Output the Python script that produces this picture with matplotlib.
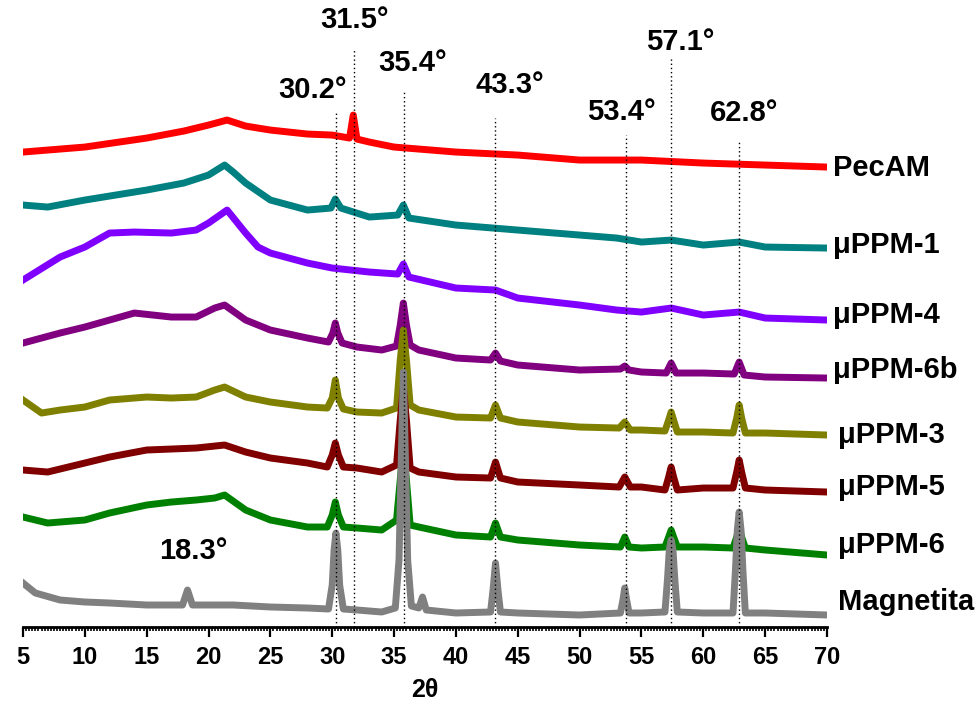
import matplotlib
matplotlib.use("Agg")
import matplotlib.pyplot as plt
from matplotlib.ticker import MultipleLocator

plt.rcParams["font.family"] = ["Liberation Sans", "DejaVu Sans"]
plt.rcParams["font.weight"] = "bold"

# XRD patterns, stacked intensity (a.u.) vs 2theta
pecam_x = [5, 10, 15, 18, 20, 21.5, 23, 25, 28, 30, 31.4, 31.7, 32.0, 33, 35, 40, 45, 50, 55, 60, 65, 70]
pecam_y = [475, 480, 489, 496, 502, 507, 501, 497, 493, 492, 489, 512, 488, 485, 480, 475, 472, 467, 467, 464, 462, 460]

ppm1_x = [5, 7, 10, 15, 18, 20, 21.3, 22, 23, 25, 28, 29.9, 30.25, 30.7, 33, 35.3, 35.75, 36.2,
          40, 45, 50, 53, 55, 57.4, 60, 62.9, 65, 70]
ppm1_y = [422, 420, 427, 437, 444, 452, 462, 455, 444, 427, 417, 419, 428, 419, 410, 412, 422, 409,
          402, 397, 392, 389, 385, 387, 382, 385, 380, 379]

ppm4_x = [5, 8, 10, 12, 14, 17, 19, 20, 21.5, 23, 24, 25, 28, 30, 33, 35.3, 35.75, 36.2,
          40, 43.2, 45, 50, 53, 55, 57.4, 60, 62.9, 65, 70]
ppm4_y = [347, 370, 380, 394, 395, 394, 397, 404, 417, 394, 380, 374, 364, 359, 355, 353, 363, 350,
          339, 337, 329, 322, 317, 315, 319, 312, 315, 309, 307]

ppm6b_x = [5, 8, 10, 12, 14, 17, 19, 20.5, 21.3, 23, 25, 28, 29.7, 30.05, 30.25, 30.45, 30.8, 32, 34,
           35.2, 35.5, 35.75, 36.0, 36.3, 37, 40, 42.8, 43.2, 43.6, 45, 50, 53.3, 53.65, 54, 55,
           57.0, 57.4, 57.8, 60, 62.5, 62.9, 63.3, 65, 70]
ppm6b_y = [284, 294, 300, 307, 314, 310, 310, 319, 322, 307, 297, 289, 285, 294, 304, 294, 284, 280, 277,
           281, 302, 324, 302, 282, 277, 269, 267, 274, 266, 262, 257, 258, 261, 257, 255,
           254, 264, 254, 254, 253, 265, 252, 250, 249]

ppm3_x = [5, 6.5, 8, 10, 12, 15, 17, 19, 20.5, 21.3, 23, 25, 28, 29.6, 30.0, 30.25, 30.5, 30.9, 32, 34,
          35.2, 35.5, 35.75, 36.0, 36.3, 37, 40, 42.8, 43.2, 43.6, 45, 50, 53.2, 53.65, 54.1, 55,
          56.9, 57.2, 57.4, 57.6, 57.9, 60, 62.4, 62.7, 62.9, 63.1, 63.4, 65, 70]
ppm3_y = [227, 214, 217, 220, 227, 230, 229, 230, 237, 240, 230, 225, 220, 219, 229, 247, 229, 218, 215, 214,
          219, 267, 297, 267, 222, 217, 210, 209, 222, 209, 205, 200, 199, 205, 197, 197,
          196, 207, 215, 207, 195, 195, 194, 209, 222, 209, 194, 194, 192]

ppm5_x = [5, 7, 10, 12, 15, 19, 21.3, 23, 25, 28, 29.6, 30.0, 30.25, 30.5, 30.9, 32, 34, 35.2, 35.5, 35.75,
          36.0, 36.3, 37, 40, 42.8, 43.2, 43.6, 45, 50, 53.2, 53.65, 54.1, 55, 56.9, 57.2, 57.4, 57.6, 57.9,
          60, 62.4, 62.7, 62.9, 63.1, 63.4, 65, 70]
ppm5_y = [157, 155, 164, 170, 177, 179, 182, 175, 169, 164, 160, 172, 184, 172, 160, 159, 155, 162, 207, 240,
          207, 159, 155, 150, 149, 165, 149, 145, 142, 140, 150, 140, 140, 137, 150, 160, 150, 137,
          139, 139, 155, 167, 155, 139, 137, 135]

ppm6_x = [5, 7, 10, 12, 15, 17, 19, 20.5, 21.3, 23, 25, 28, 29.6, 30.0, 30.25, 30.5, 30.9, 32, 34, 35.2,
          35.5, 35.75, 36.0, 36.3, 37, 40, 42.8, 43.2, 43.6, 45, 50, 53.3, 53.65, 54.0, 55, 56.9, 57.2, 57.4,
          57.6, 57.9, 60, 62.4, 62.7, 62.9, 63.1, 63.4, 65, 70]
ppm6_y = [110, 104, 107, 114, 122, 125, 127, 129, 132, 117, 107, 100, 100, 112, 125, 112, 100, 99, 97, 107,
          147, 180, 147, 102, 100, 92, 90, 104, 90, 87, 82, 80, 90, 80, 79, 80, 90, 97,
          90, 80, 80, 79, 90, 99, 90, 79, 77, 72]

mag_x = [5, 6, 8, 10, 12, 15, 17.9, 18.3, 18.7, 22, 25, 28, 29.7, 30.0, 30.15, 30.3, 30.45, 30.6, 30.9, 32,
         34, 35.1, 35.4, 35.6, 35.75, 35.9, 36.1, 36.4, 37.0, 37.3, 37.6, 40, 42.8, 43.0, 43.2, 43.4, 43.6,
         45, 50, 53.3, 53.5, 53.65, 53.8, 54.0, 55, 56.9, 57.1, 57.25, 57.4, 57.55, 57.7, 57.9, 60,
         62.4, 62.6, 62.75, 62.9, 63.05, 63.2, 63.4, 65, 70]
mag_y = [44, 34, 27, 25, 24, 22, 22, 37, 22, 22, 20, 19, 18, 42, 77, 94, 77, 42, 18, 17,
         15, 19, 67, 177, 255, 177, 67, 21, 19, 30, 17, 14, 15, 37, 64, 37, 15,
         14, 12, 14, 27, 39, 27, 14, 14, 15, 47, 77, 87, 77, 47, 15, 14,
         14, 57, 97, 115, 97, 57, 14, 14, 12]

names = ["PecAM", "μPPM-1", "μPPM-4", "μPPM-6b", "μPPM-3", "μPPM-5", "μPPM-6", "Magnetita"]
colors = ["#ff0000", "#008080", "#8000ff", "#800080", "#808000", "#800000", "#008000", "#808080"]
label_y = [459, 382, 312, 257, 192, 140, 82, 25]
label_x = [70.45, 70.45, 70.45, 70.45, 70.9, 70.9, 70.9, 70.9]

# reference peaks: dotted markers and their labels
peak_pos = [30.3, 31.76, 35.8, 43.16, 53.72, 57.38, 62.88]
peak_top = [516, 577, 535, 509, 492, 569, 487]
peak_text = ["30.2°", "31.5°", "35.4°", "43.3°", "53.4°", "57.1°", "62.8°", "18.3°"]
peak_text_x = [28.44, 31.84, 36.5, 44.35, 53.4, 58.1, 63.3, 18.75]
peak_text_y = [537, 607, 564, 542, 515, 585, 514, 76]

xs = [pecam_x, ppm1_x, ppm4_x, ppm6b_x, ppm3_x, ppm5_x, ppm6_x, mag_x]
ys = [pecam_y, ppm1_y, ppm4_y, ppm6b_y, ppm3_y, ppm5_y, ppm6_y, mag_y]

fig = plt.figure(figsize=(9.78, 7.06), dpi=100)
ax = fig.add_axes([0.0235, 0.1119, 0.8221, 0.888])

for x, y, c in zip(xs, ys, colors):
    ax.plot(x, y, color=c, lw=5, solid_joinstyle="round")

ax.vlines(peak_pos, 0, peak_top, colors="black", linestyles=(0, (1, 2)), lw=1, zorder=5)

for t, tx, ty in zip(peak_text, peak_text_x, peak_text_y):
    ax.text(tx, ty, t, ha="center", va="center", fontsize=21, fontweight="bold")

for n, lx, ly in zip(names, label_x, label_y):
    ax.text(lx, ly, n, ha="left", va="center", fontsize=21, fontweight="bold", clip_on=False)

ax.set_xlim(5, 70)
ax.set_ylim(0, 627)
ax.set_yticks([])
for s in ["left", "right", "top"]:
    ax.spines[s].set_visible(False)
ax.spines["bottom"].set_linewidth(2)
ax.xaxis.set_major_locator(MultipleLocator(5))
ax.xaxis.set_minor_locator(MultipleLocator(0.25))
ax.tick_params(axis="x", which="major", length=7, width=1.6, labelsize=17, pad=7)
ax.tick_params(axis="x", which="minor", length=3, width=1.2)
ax.set_xlabel("2θ", fontsize=18, fontweight="bold", labelpad=6)

fig.savefig("out.png", dpi=100)
